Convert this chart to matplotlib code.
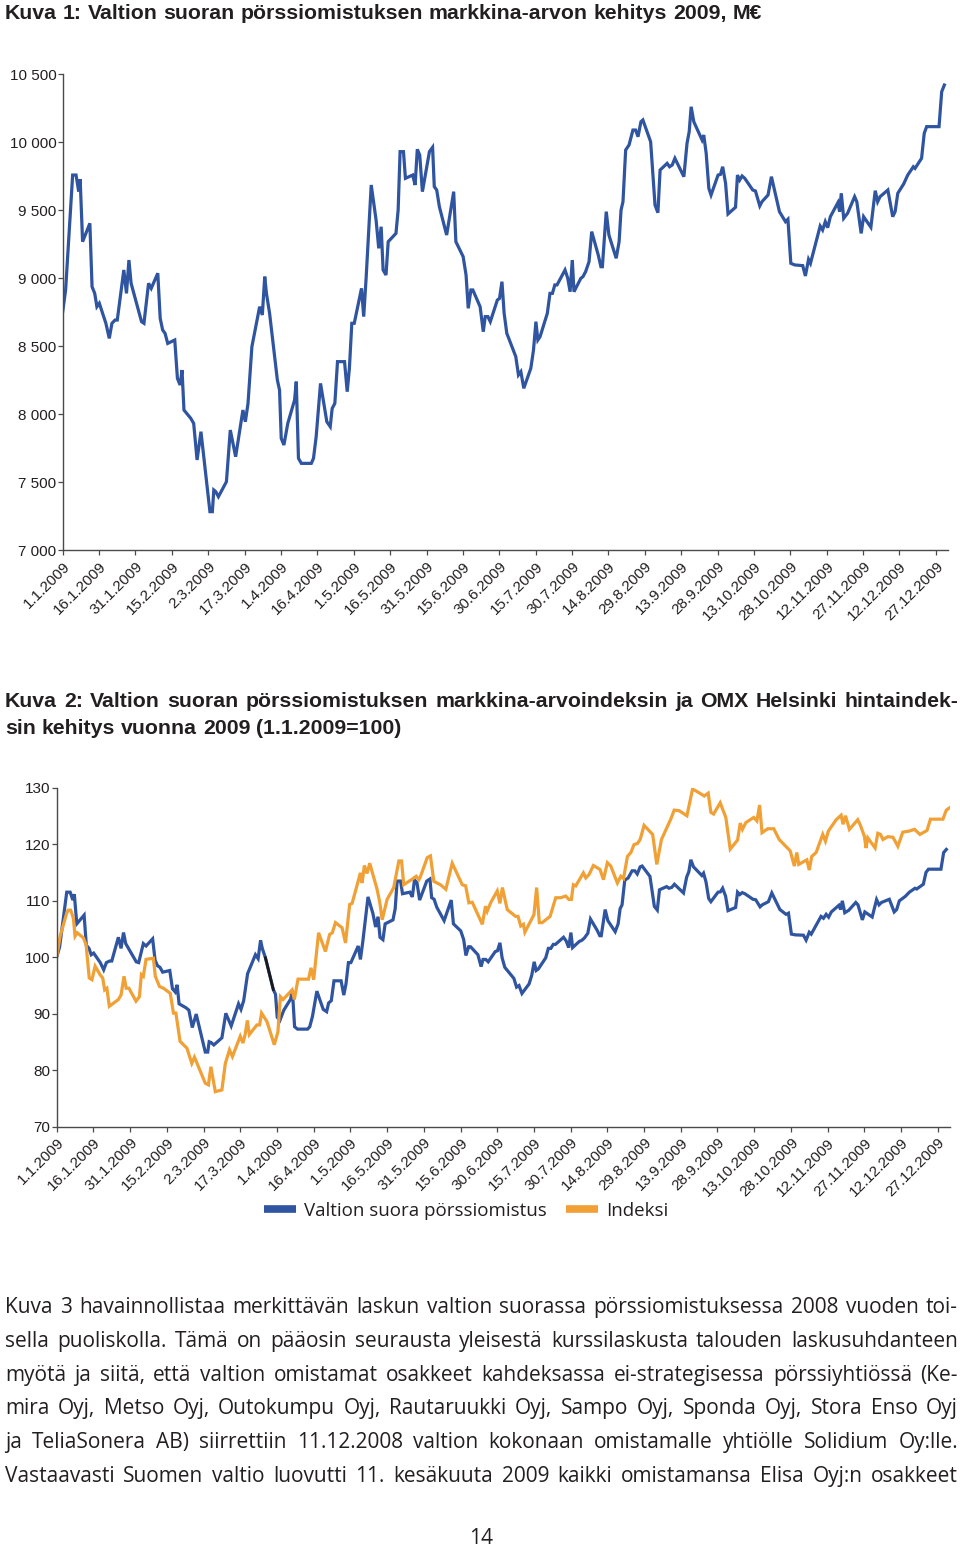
import matplotlib
matplotlib.use("Agg")
import matplotlib.pyplot as plt
from matplotlib.lines import Line2D
from matplotlib.ticker import FixedLocator

# ---------------- data ----------------
# days since 1.1.2009 and market value (M EUR) of the state's direct holdings
paiva_1 = [0.0, 1.2, 4.1, 5.5, 6.6, 7.2, 8.2, 11.2, 12.1, 13.2, 14.1, 15.1, 17.8, 19.2, 20.3, 21.6, 22.5,
           25.2, 26.3, 27.3, 28.2, 32.5, 33.5, 35.4, 36.5, 39.2, 40.2, 41.2, 42.2, 43.3, 46.2, 47.3, 48.4,
           49.2, 50.0, 52.8, 54.0, 55.4, 57.0, 60.7, 61.7, 62.3, 63.1, 64.2, 67.5, 69.1, 71.3, 74.3, 75.3,
           76.4, 78.0, 81.2, 82.3, 83.3, 84.0, 85.3, 88.5, 89.4, 90.1, 91.2, 92.8, 95.6, 96.3, 97.2, 98.4,
           102.5, 103.4, 104.5, 106.3, 108.9, 110.3, 111.1, 112.2, 113.3, 116.2, 117.3, 118.2, 119.2, 120.2,
           123.2, 124.1, 125.1, 127.2, 129.2, 130.3, 131.3, 132.1, 133.3, 134.2, 137.4, 138.3, 139.1, 140.5,
           141.3, 144.3, 145.3, 146.2, 147.2, 148.3, 151.2, 152.5, 153.2, 154.2, 155.3, 158.3, 161.2, 162.1,
           165.1, 166.3, 167.2, 168.3, 169.1, 172.1, 173.4, 174.2, 175.3, 176.3, 179.2, 180.1, 181.1, 182.0,
           183.1, 186.8, 187.9, 188.9, 190.1, 193.0, 194.1, 195.1, 195.9, 196.8, 199.8, 200.9, 201.9, 202.9,
           203.8, 207.1, 208.2, 209.2, 210.1, 210.8, 213.6, 214.5, 215.6, 217.0, 218.1, 220.8, 221.9, 222.5,
           224.1, 225.2, 228.2, 229.4, 230.2, 231.0, 232.1, 233.5, 235.1, 236.2, 237.2, 238.4, 239.2, 242.4,
           244.2, 245.4, 246.3, 249.2, 250.2, 251.3, 252.4, 256.1, 257.4, 258.3, 259.1, 260.2, 263.0, 263.6,
           264.3, 265.3, 266.4, 267.3, 270.2, 271.2, 272.1, 273.3, 274.3, 277.4, 278.2, 279.1, 280.1, 281.2,
           284.5, 285.6, 287.4, 288.3, 290.8, 292.2, 295.5, 298.0, 299.0, 300.2, 301.8, 305.1, 306.2, 307.5,
           308.3, 312.3, 313.3, 314.4, 315.4, 316.5, 319.6, 320.3, 321.0, 322.0, 323.6, 326.5, 327.4, 329.2,
           330.2, 333.2, 335.0, 336.0, 337.0, 340.2, 342.2, 343.2, 344.3, 346.7, 348.4, 349.8, 350.7, 351.4,
           354.1, 355.2, 356.2, 361.3, 362.4, 363.5]
arvo_1 = [8752, 8912, 9757, 9757, 9635, 9726, 9267, 9402, 8936, 8887, 8789, 8814, 8667, 8556, 8667, 8691, 8691,
          9059, 8887, 9132, 8961, 8679, 8667, 8961, 8924, 9035, 8703, 8618, 8593, 8519, 8544, 8262, 8213,
          8323, 8029, 7968, 7931, 7662, 7870, 7282, 7282, 7441, 7429, 7392, 7502, 7882, 7686, 8029, 7943,
          8078, 8495, 8789, 8728, 9010, 8887, 8740, 8250, 8176, 7821, 7772, 7931, 8103, 8238, 7674, 7637,
          7637, 7674, 7833, 8225, 7943, 7907, 8041, 8078, 8385, 8385, 8164, 8336, 8667, 8667,
          8924, 8716, 9000, 9684, 9427, 9218, 9377, 9059, 9022, 9267, 9328, 9500, 9929, 9929,
          9733, 9757, 9684, 9946, 9904, 9635, 9929, 9961, 9672, 9647, 9524, 9316, 9635, 9267,
          9157, 9022, 8777, 8912, 8912, 8789, 8605, 8716, 8716, 8679, 8838, 8850, 8973, 8740,
          8593, 8422, 8287, 8311, 8189, 8336, 8470, 8679, 8544, 8568, 8740, 8887, 8887, 8949,
          8949, 9059, 9000, 8899, 9132, 8899, 8997, 9010, 9047, 9120, 9341, 9169, 9083, 9083,
          9488, 9316, 9145, 9267, 9500, 9561, 9941, 9978, 10088, 10088, 10039, 10149, 10162, 10002,
          9537, 9480, 9794, 9843, 9818, 9831, 9880, 9745, 9990, 10076, 10259, 10149, 10039, 10015,
          10051, 9917, 9659, 9610, 9757, 9762, 9818, 9696, 9471, 9520, 9757, 9720, 9750, 9733,
          9647, 9640, 9530, 9561, 9610, 9745, 9488, 9414, 9432, 9108, 9096, 9091, 9015, 9137,
          9108, 9382, 9353, 9414, 9370, 9451, 9554, 9488, 9623, 9439, 9476, 9598, 9561, 9328,
          9451, 9373, 9642, 9561, 9598, 9647, 9451, 9488, 9623, 9691, 9757, 9794, 9818, 9806,
          9880, 10064, 10113, 10113, 10370, 10419]

# OMX Helsinki price index (1.1.2009 = 100)
paiva_2 = [0.0, 1.4, 4.1, 4.7, 5.7, 6.8, 7.5, 8.4, 10.9, 12.0, 13.3, 14.4, 15.7, 17.7, 18.8, 19.6, 20.5, 21.5,
           25.2, 26.3, 27.5, 28.4, 29.5, 32.4, 33.8, 34.6, 35.4, 36.5, 39.5, 40.3, 42.0, 43.6, 46.4, 47.7,
           48.7, 50.4, 53.2, 55.2, 56.3, 60.7, 62.0, 63.0, 64.8, 67.5, 68.9, 70.6, 71.8, 75.0, 76.1, 77.0,
           77.9, 78.7, 81.8, 82.9, 83.7, 85.9, 88.9, 90.4, 91.4, 92.5, 96.2, 97.1, 98.6, 102.9, 103.9,
           105.0, 107.0, 109.8, 111.5, 112.6, 113.9, 116.6, 118.0, 119.7, 120.7, 124.1, 124.8, 125.7,
           126.8, 127.9, 130.9, 132.0, 133.0, 135.0, 137.7, 139.8, 140.9, 141.8, 145.3, 146.9, 148.0,
           148.6, 151.4, 152.7, 154.1, 156.8, 159.0, 161.6, 165.7, 167.1, 168.4, 169.8, 173.9, 175.2,
           175.9, 177.3, 180.0, 181.1, 182.1, 184.1, 187.5, 188.5, 189.6, 190.7, 191.3, 195.0, 196.1,
           197.2, 198.4, 201.6, 203.9, 205.9, 208.0, 209.3, 210.3, 211.1, 212.1, 215.2, 216.2, 217.5,
           219.3, 222.0, 223.4, 225.0, 226.4, 229.1, 230.5, 231.6, 233.2, 234.6, 235.9, 237.3, 238.4,
           240.0, 243.5, 245.2, 247.1, 250.9, 252.3, 254.3, 257.5, 259.8, 261.2, 264.6, 266.2, 267.3,
           268.4, 271.1, 273.4, 275.2, 278.2, 279.3, 280.2, 281.6, 284.8, 286.1, 287.2, 288.2, 290.5,
           293.0, 295.2, 299.7, 301.4, 302.4, 303.2, 306.5, 307.5, 308.5, 310.3, 313.0, 314.1, 315.3,
           318.5, 320.5, 321.3, 322.3, 323.9, 327.3, 328.4, 330.0, 330.7, 331.4, 334.4, 335.5, 336.6,
           337.6, 339.6, 341.7, 343.7, 345.7, 348.4, 350.5, 352.7, 355.6, 357.0, 362.1, 363.5, 364.8]
indeksi = [100.0, 103.7, 107.8, 108.3, 108.3, 106.9, 103.7, 104.3, 103.4, 102.2, 96.3, 96.0, 98.4, 96.9, 96.3,
           94.2, 94.5, 91.3, 92.5, 93.3, 96.6, 94.5, 94.5, 92.2, 93.0, 96.9, 96.6, 99.6, 99.8, 96.6, 94.8,
           94.5, 93.6, 90.1, 90.1, 85.1, 83.9, 81.2, 82.3, 77.7, 77.4, 80.6, 76.2, 76.5, 81.2, 83.6, 82.4,
           86.0, 84.8, 86.3, 88.8, 86.3, 88.0, 88.0, 90.1, 88.6, 84.5, 86.8, 93.0, 92.5, 94.2, 92.5, 96.1,
           96.1, 98.1, 96.0, 104.3, 101.0, 104.0, 104.3, 106.1, 105.2, 102.5, 109.3, 109.5, 114.9, 113.1,
           116.2, 114.8, 116.6, 112.0, 109.7, 106.6, 110.2, 112.3, 117.0, 117.0, 112.8, 113.8, 114.3,
           113.7, 114.2, 117.6, 117.9, 113.4, 112.8, 112.0, 116.6, 112.8, 112.6, 109.6, 109.7, 105.8,
           109.0, 108.1, 109.6, 111.7, 109.5, 112.3, 108.4, 107.2, 107.2, 105.5, 105.8, 104.4, 107.5,
           112.3, 106.1, 106.1, 107.2, 110.5, 110.5, 110.8, 110.2, 110.2, 112.8, 112.6, 114.9, 114.0,
           114.6, 116.2, 115.5, 113.7, 116.7, 116.1, 113.1, 114.3, 113.9, 117.8, 118.5, 119.9, 120.1,
           120.8, 123.3, 121.7, 116.4, 120.8, 124.4, 126.0, 125.9, 125.0, 129.7, 129.4, 128.5, 129.0,
           125.6, 125.3, 127.3, 124.7, 119.1, 120.7, 123.7, 122.6, 123.8, 124.7, 124.1, 126.9, 122.0,
           122.7, 122.7, 120.8, 118.8, 116.1, 118.5, 116.4, 117.2, 115.4, 117.8, 118.5, 121.7, 120.5,
           122.3, 124.3, 125.1, 123.5, 125.0, 122.6, 124.3, 123.3, 121.4, 119.3, 121.1, 119.3, 121.9,
           121.7, 120.8, 121.3, 121.2, 119.6, 122.1, 122.3, 122.6, 121.7, 122.4, 124.4, 124.4, 126.0, 126.4]

tick_days = [0, 15, 30, 45, 60, 75, 90, 105, 120, 135, 150, 165, 180, 195, 210, 225, 240, 255, 270, 285,
             300, 315, 330, 345, 360]
tick_labels = ["1.1.2009", "16.1.2009", "31.1.2009", "15.2.2009", "2.3.2009", "17.3.2009", "1.4.2009",
               "16.4.2009", "1.5.2009", "16.5.2009", "31.5.2009", "15.6.2009", "30.6.2009", "15.7.2009",
               "30.7.2009", "14.8.2009", "29.8.2009", "13.9.2009", "28.9.2009", "13.10.2009", "28.10.2009",
               "12.11.2009", "27.11.2009", "12.12.2009", "27.12.2009"]
y1_ticks = [7000, 7500, 8000, 8500, 9000, 9500, 10000, 10500]
y1_labels = ["7 000", "7 500", "8 000", "8 500", "9 000", "9 500", "10 000", "10 500"]
y2_ticks = [70, 80, 90, 100, 110, 120, 130]
y2_labels = ["70", "80", "90", "100", "110", "120", "130"]
series_names = ["Valtion suora pörssiomistus", "Indeksi"]

title1 = "Kuva 1: Valtion suoran pörssiomistuksen markkina-arvon kehitys 2009, M€"
title2_lines = ["Kuva 2: Valtion suoran pörssiomistuksen markkina-arvoindeksin ja OMX Helsinki hintaindek-",
                "sin kehitys vuonna 2009 (1.1.2009=100)"]
body_lines = [
    "Kuva 3 havainnollistaa merkittävän laskun valtion suorassa pörssiomistuksessa 2008 vuoden toi-",
    "sella puoliskolla. Tämä on pääosin seurausta yleisestä kurssilaskusta talouden laskusuhdanteen",
    "myötä ja siitä, että valtion omistamat osakkeet kahdeksassa ei-strategisessa pörssiyhtiössä (Ke-",
    "mira Oyj, Metso Oyj, Outokumpu Oyj, Rautaruukki Oyj, Sampo Oyj, Sponda Oyj, Stora Enso Oyj",
    "ja TeliaSonera AB) siirrettiin 11.12.2008 valtion kokonaan omistamalle yhtiölle Solidium Oy:lle.",
    "Vastaavasti Suomen valtio luovutti 11. kesäkuuta 2009 kaikki omistamansa Elisa Oyj:n osakkeet",
]
page_number = "14"

# ---------------- styling ----------------
plt.rcParams['font.family'] = ['Liberation Sans', 'DejaVu Sans']
BODY_FONT = ['Open Sans', 'DejaVu Sans']
W, H = 960, 1546
BLUE = "#2f54a0"
ORANGE = "#f0a034"
TXT = "#231f20"
SPINE = "#4a4a4a"

fig = plt.figure(figsize=(W / 100, H / 100), dpi=100)


def fx(px):
    return px / W


def fy(py):
    return 1 - py / H


def style_axes(ax, yticks, ylabels):
    for s in ("top", "right"):
        ax.spines[s].set_visible(False)
    for s in ("left", "bottom"):
        ax.spines[s].set_color(SPINE)
        ax.spines[s].set_linewidth(1.0)
    ax.set_xlim(0, 365)
    ax.xaxis.set_major_locator(FixedLocator(tick_days))
    ax.set_xticklabels(tick_labels, rotation=45, ha="right", rotation_mode="anchor")
    ax.set_yticks(yticks)
    ax.set_yticklabels(ylabels)
    ax.tick_params(axis="both", colors=SPINE, labelcolor=TXT, labelsize=11, length=3.5, width=0.9)
    ax.tick_params(axis="x", pad=3)
    ax.tick_params(axis="y", pad=1)


# Chart 1
ax1 = fig.add_axes([fx(62.7), fy(550), fx(948 - 62.7), (550 - 74) / H])
ax1.plot(paiva_1, arvo_1, color=BLUE, lw=2.3, solid_joinstyle="miter")
ax1.set_ylim(7000, 10500)
style_axes(ax1, y1_ticks, y1_labels)

# Chart 2
ax2 = fig.add_axes([fx(56.7), fy(1126.7), fx(950 - 56.7), (1126.7 - 787.5) / H])
omistus_ind = [v / arvo_1[0] * 100 for v in arvo_1]
ax2.plot(paiva_1, omistus_ind, color=BLUE, lw=2.3, solid_joinstyle="miter")
seg = [(d, v) for d, v in zip(paiva_1, omistus_ind) if 85 <= d <= 88.6]
ax2.plot([s[0] for s in seg], [s[1] for s in seg], color="#1a1a1a", lw=2.0)
ax2.plot(paiva_2, indeksi, color=ORANGE, lw=2.3, solid_joinstyle="miter")
ax2.set_ylim(70, 130)
style_axes(ax2, y2_ticks, y2_labels)

handles = [Line2D([], [], color=BLUE, lw=5.5, solid_capstyle="butt"),
           Line2D([], [], color=ORANGE, lw=5.5, solid_capstyle="butt")]
fig.legend(handles, series_names, loc="center", bbox_to_anchor=(fx(466), fy(1211)), ncol=2,
           frameon=False, prop={"family": BODY_FONT, "size": 13.5}, handlelength=1.7,
           handletextpad=0.45, columnspacing=1.0, labelcolor=TXT)

# ---------------- text ----------------
renderer = fig.canvas.get_renderer()


def justified(text, y_base, size, weight="normal", family=None, x0=5, x1=958, justify=True):
    fam = family if family is not None else plt.rcParams['font.family']
    words = text.split(" ")
    objs = [fig.text(0, fy(y_base), w, fontsize=size, fontweight=weight, family=fam, color=TXT,
                     va="baseline") for w in words]
    widths = [o.get_window_extent(renderer).width for o in objs]
    if justify and len(words) > 1:
        gap = (x1 - x0 - sum(widths)) / (len(words) - 1)
    else:
        sp = fig.text(0, 0, "a a", fontsize=size, fontweight=weight, family=fam)
        sp2 = fig.text(0, 0, "aa", fontsize=size, fontweight=weight, family=fam)
        gap = sp.get_window_extent(renderer).width - sp2.get_window_extent(renderer).width
        sp.remove()
        sp2.remove()
    x = x0
    for o, w in zip(objs, widths):
        o.set_x(fx(x))
        x += w + gap


justified(title1, 19, 15.3, weight="bold", justify=False)
justified(title2_lines[0], 707, 15.3, weight="bold")
justified(title2_lines[1], 734, 15.3, weight="bold", justify=False)
for i, line in enumerate(body_lines):
    justified(line, 1313 + i * 33.8, 15.0, family=BODY_FONT)
fig.text(fx(481), fy(1544), page_number, fontsize=15.0, family=BODY_FONT, color=TXT,
         ha="center", va="baseline")

fig.savefig("out.png", dpi=100)
